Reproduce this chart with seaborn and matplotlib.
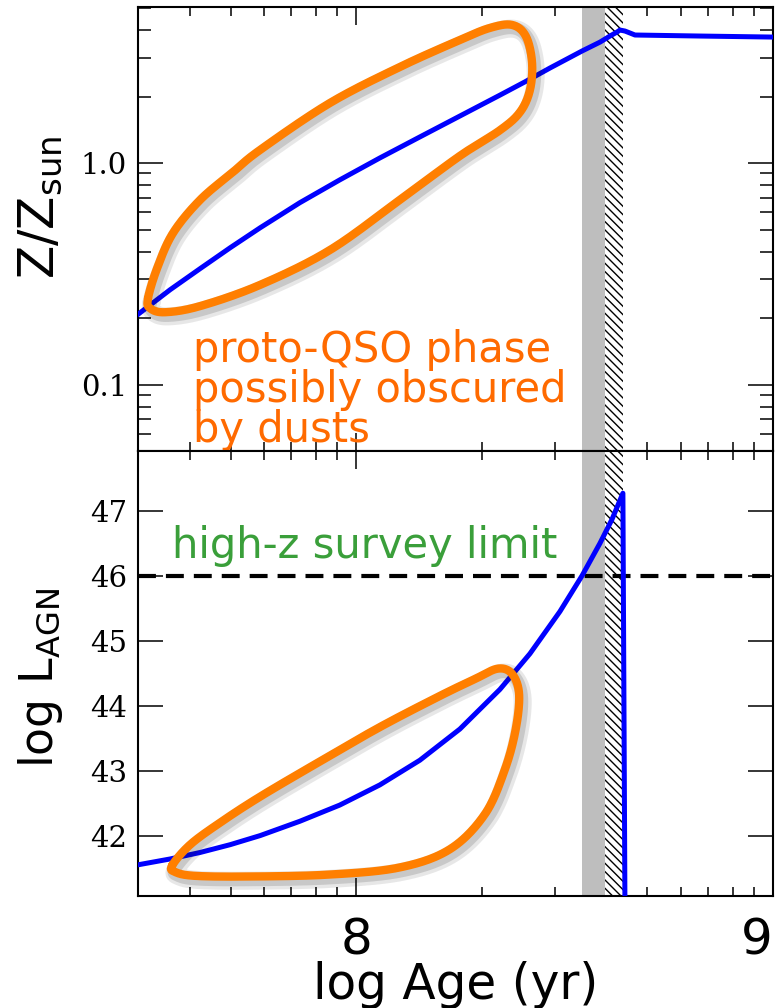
import numpy as np
import matplotlib
matplotlib.use("Agg")
import matplotlib.pyplot as plt
import matplotlib.patheffects as pe
from matplotlib.ticker import FixedLocator, FixedFormatter, NullFormatter
import seaborn as sns

sns.set_theme(style="white")
plt.rcParams['font.family'] = ['DejaVu Sans']
plt.rcParams['hatch.color'] = 'black'
plt.rcParams['hatch.linewidth'] = 1.0

# ---- metallicity track (log age vs Z/Zsun) ----
age_z = [7.475, 7.554, 7.626, 7.698, 7.770, 7.865, 7.961, 8.057, 8.153,
         8.249, 8.345, 8.405, 8.465, 8.542, 8.585, 8.609, 8.626, 8.633,
         8.645, 8.669, 8.825, 9.000]
z_sun = [0.207, 0.269, 0.335, 0.416, 0.512, 0.664, 0.842, 1.057, 1.315,
         1.634, 2.03, 2.33, 2.69, 3.21, 3.52, 3.75, 3.91, 3.99,
         3.95, 3.79, 3.75, 3.71]

# ---- AGN luminosity track (log age vs log L_AGN) ----
age_l = [7.477, 7.554, 7.626, 7.698, 7.770, 7.865, 7.961, 8.057, 8.153,
         8.249, 8.345, 8.417, 8.489, 8.542, 8.585, 8.614, 8.640, 8.645]
log_lagn = [41.56, 41.65, 41.75, 41.87, 42.01, 42.23, 42.48, 42.79, 43.17,
            43.65, 44.26, 44.81, 45.46, 46.01, 46.51, 46.88, 47.28, 40.80]

survey_limit = 46.0
band_gray = (8.541, 8.597)
band_hatch = (8.597, 8.640)

# ---- hand-drawn highlight loops ----
loop_top_age = [7.501, 7.523, 7.561, 7.626, 7.705, 7.770, 7.937, 8.105, 8.249,
                8.321, 8.374, 8.407, 8.422, 8.417, 8.393, 8.345, 8.249, 8.105,
                7.937, 7.770, 7.626, 7.542, 7.506]
loop_top_z = [0.246, 0.337, 0.485, 0.684, 0.914, 1.15, 1.87, 2.72, 3.60,
              4.08, 4.21, 3.75, 2.86, 2.14, 1.70, 1.41, 1.08, 0.684,
              0.406, 0.283, 0.227, 0.213, 0.222]

loop_bot_age = [7.559, 7.602, 7.674, 7.770, 7.913, 8.057, 8.201, 8.285, 8.340,
                8.374, 8.391, 8.383, 8.357, 8.309, 8.225, 8.105, 7.937, 7.746,
                7.614, 7.566]
loop_bot_l = [41.55, 41.87, 42.21, 42.61, 43.15, 43.68, 44.16, 44.42, 44.58,
              44.50, 44.19, 43.65, 43.03, 42.34, 41.80, 41.52, 41.41, 41.38,
              41.39, 41.45]

x_major = [8.0, 9.0]
x_major_labels = ["8", "9"]
x_minor = list(np.log10([3e7, 4e7, 5e7, 6e7, 7e7, 8e7, 9e7,
                         2e8, 3e8, 4e8, 5e8, 6e8, 7e8, 8e8, 9e8]))
z_major = [0.1, 1.0]
z_major_labels = ["0.1", "1.0"]
z_minor = [0.05, 0.06, 0.07, 0.08, 0.09, 0.2, 0.3, 0.4, 0.5, 0.6, 0.7, 0.8,
           0.9, 2.0, 3.0, 4.0, 5.0]
l_major = [42, 43, 44, 45, 46, 47]

BLUE = "#0000ff"
ORANGE = "#ff7f00"
ORANGE_TXT = "#ff6a00"
GREEN = "#3a9f3a"


def closed_spline(x, y, n=24):
    """Closed Catmull-Rom curve through the given control points."""
    x = np.asarray(x, float)
    y = np.asarray(y, float)
    k = len(x)
    t = np.linspace(0, 1, n, endpoint=False)
    xs, ys = [], []
    for i in range(k):
        p0, p1, p2, p3 = [(x[(i + j) % k], y[(i + j) % k]) for j in (-1, 0, 1, 2)]
        for tt in t:
            t2, t3 = tt * tt, tt * tt * tt
            c0 = -0.5 * t3 + t2 - 0.5 * tt
            c1 = 1.5 * t3 - 2.5 * t2 + 1
            c2 = -1.5 * t3 + 2 * t2 + 0.5 * tt
            c3 = 0.5 * t3 - 0.5 * t2
            xs.append(c0 * p0[0] + c1 * p1[0] + c2 * p2[0] + c3 * p3[0])
            ys.append(c0 * p0[1] + c1 * p1[1] + c2 * p2[1] + c3 * p3[1])
    xs.append(xs[0])
    ys.append(ys[0])
    return np.array(xs), np.array(ys)


fig = plt.figure(figsize=(7.8, 10.08), dpi=100)
left, right = 138 / 780, 773 / 780
y_mid = 1 - 451 / 1008
ax1 = fig.add_axes([left, y_mid, right - left, (1 - 7 / 1008) - y_mid])
ax2 = fig.add_axes([left, 1 - 896 / 1008, right - left, y_mid - (1 - 896 / 1008)])

shadow = [pe.SimpleLineShadow(offset=(2.5, -3), shadow_color="k", alpha=0.10, linewidth=13),
          pe.SimpleLineShadow(offset=(2, -2.5), shadow_color="k", alpha=0.15, linewidth=9),
          pe.Normal()]

for ax in (ax1, ax2):
    ax.axvspan(*band_gray, facecolor="#bebebe", edgecolor="none", lw=0, zorder=0.5)
    ax.axvspan(*band_hatch, facecolor="white", edgecolor="black", hatch="\\\\\\\\",
               lw=0, zorder=0.6)

# top panel: metallicity
sns.lineplot(x=age_z, y=z_sun, ax=ax1, color=BLUE, lw=3.6, sort=False,
             estimator=None, zorder=3)
ax1.set_yscale("log")
lx, ly = closed_spline(loop_top_age, np.log10(loop_top_z))
ax1.plot(lx, 10 ** ly, color=ORANGE, lw=6, solid_capstyle="round",
         solid_joinstyle="round", zorder=4, path_effects=shadow)

# bottom panel: AGN luminosity
sns.lineplot(x=age_l, y=log_lagn, ax=ax2, color=BLUE, lw=3.6, sort=False,
             estimator=None, zorder=3)
ax2.axhline(survey_limit, color="black", lw=3, dashes=(4.3, 2.4), zorder=2.5)
bx, by = closed_spline(loop_bot_age, loop_bot_l)
ax2.plot(bx, by, color=ORANGE, lw=6, solid_capstyle="round",
         solid_joinstyle="round", zorder=4, path_effects=shadow)

ax1.set_xlim(7.477, 9.0)
ax2.set_xlim(7.477, 9.0)
ax1.set_ylim(0.0504, 5.07)
ax2.set_ylim(41.08, 47.93)

for ax in (ax1, ax2):
    ax.xaxis.set_major_locator(FixedLocator(x_major))
    ax.xaxis.set_minor_locator(FixedLocator(x_minor))
    ax.tick_params(axis="x", which="major", direction="in", length=13, width=1.1,
                   top=True, bottom=True, colors="black")
    ax.tick_params(axis="x", which="minor", direction="in", length=6.5, width=1.1,
                   top=True, bottom=True, colors="black")
    ax.tick_params(axis="y", which="major", direction="in", length=18, width=1.1,
                   left=True, right=True, colors="black", pad=8)
    ax.tick_params(axis="y", which="minor", direction="in", length=9.4, width=1.1,
                   left=True, right=True, colors="black")
    for s in ax.spines.values():
        s.set_color("black")
        s.set_linewidth(1.5)
    ax.set_xlabel("")
    ax.set_ylabel("")

ax1.xaxis.set_major_formatter(NullFormatter())
ax1.yaxis.set_major_locator(FixedLocator(z_major))
ax1.yaxis.set_major_formatter(FixedFormatter(z_major_labels))
ax1.yaxis.set_minor_locator(FixedLocator(z_minor))
ax1.yaxis.set_minor_formatter(NullFormatter())

ax2.yaxis.set_major_locator(FixedLocator(l_major))
ax2.yaxis.set_major_formatter(FixedFormatter([str(v) for v in l_major]))
ax2.yaxis.set_minor_locator(FixedLocator([]))
ax2.xaxis.set_major_formatter(FixedFormatter(x_major_labels))
ax2.tick_params(axis="x", which="major", pad=15, labelsize=36)

for ax in (ax1, ax2):
    for lab in ax.get_yticklabels():
        lab.set_fontfamily("DejaVu Serif")
        lab.set_fontsize(21)

ax2.set_xlabel("log Age (yr)", fontsize=35, labelpad=-3, color="black")
ax1.set_ylabel(r"Z/Z$_{\mathrm{sun}}$", fontsize=35, color="black", va="center", ha="center")
ax2.set_ylabel(r"log L$_{\mathrm{AGN}}$", fontsize=33, color="black", va="center", ha="center")
ax1.yaxis.set_label_coords(-0.154, 0.55)
ax2.yaxis.set_label_coords(-0.154, 0.49)

# multi-line note: anchored on the baseline of its last line
ax1.text(0.0866, (451 - 442) / 444, "proto-QSO phase\npossibly obscured\nby dusts",
         transform=ax1.transAxes, color=ORANGE_TXT, fontsize=30, va="baseline",
         ha="left", linespacing=0.94, zorder=5)

ax2.text(0.0535, 0.7596, "high-z survey limit", transform=ax2.transAxes, color=GREEN,
         fontsize=30, va="baseline", ha="left", zorder=5)

# keep the right-hand "9" inside the figure edge
fig.canvas.draw()
for lab in ax2.get_xticklabels():
    if lab.get_text() == "9":
        lab.set_horizontalalignment("right")

fig.savefig("out.png", dpi=100)
